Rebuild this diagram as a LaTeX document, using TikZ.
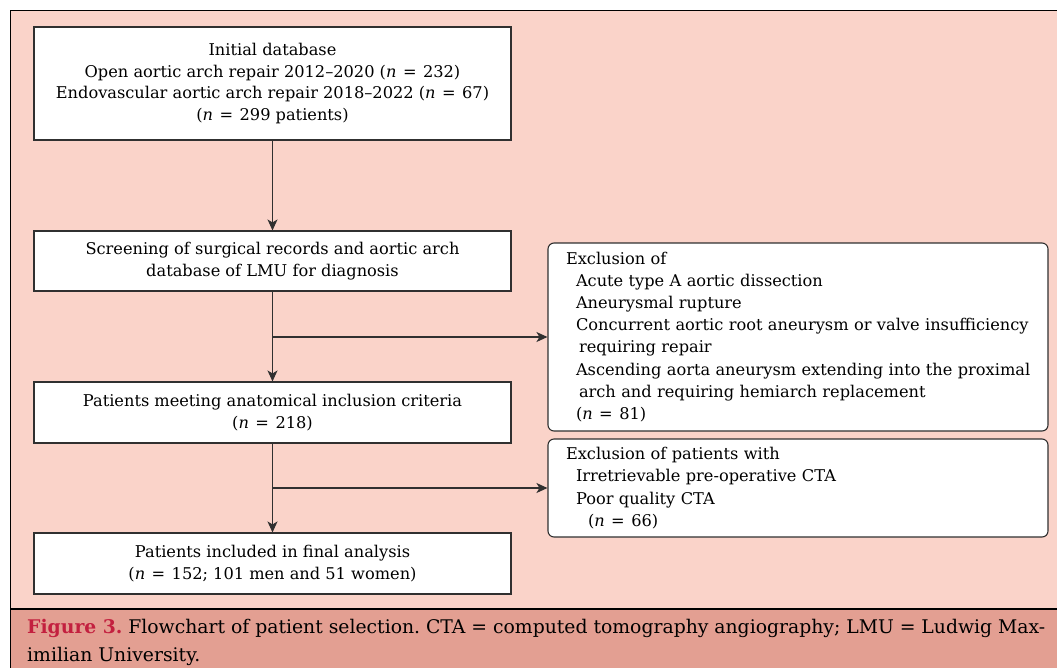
\documentclass[tikz,border=0pt]{standalone}
\usepackage{fontspec}
\setmainfont{DejaVu Serif}
\usetikzlibrary{arrows.meta,calc}
\definecolor{bgpink}{HTML}{FAD3C9}
\definecolor{capband}{HTML}{E39F92}
\definecolor{figred}{HTML}{C3203F}
\definecolor{edgegray}{HTML}{303030}
\newcommand{\eqs}{\hspace{0.4em}=\hspace{0.4em}}
\newcommand{\nn}{\textit{n}}
\frenchspacing
\hyphenpenalty=10000
\hbadness=10000
\hfuzz=20pt
\begin{document}
\begin{tikzpicture}[x=1pt,y=-1pt,
  mainbox/.style={draw=edgegray, line width=1.1pt, fill=white, minimum width=477pt, align=center, font=\fontsize{16.2}{21.5}\selectfont, inner sep=0pt},
  exbox/.style={draw=edgegray, line width=1.1pt, fill=white, rounded corners=6pt, minimum width=500pt, text width=464pt, align=left, inner xsep=18pt, inner ysep=0pt, font=\fontsize{16.2}{22.2}\selectfont},
  conn/.style={draw=edgegray, line width=1.1pt, -{Stealth[length=11pt,width=10pt,inset=3pt]}},
  captext/.style={anchor=base west, inner sep=0pt, font=\fontsize{18.8}{27.6}\selectfont}
]
\useasboundingbox (0,0) rectangle (1057,667);
% background
\fill[bgpink] (10,10) rectangle (1058,609);
\fill[capband] (10,609) rectangle (1058,668);
\draw[black, line width=1.5pt] (1058,10.7) -- (10.7,10.7) -- (10.7,668);
\draw[black, line width=1.1pt] (10,609) -- (1058,609);

% main boxes
\node[mainbox, minimum height=113pt] (b1) at (272.5,83.5) {Initial database\\Open aortic arch repair 2012--2020 (\nn\eqs232)\\Endovascular aortic arch repair 2018--2022 (\nn\eqs67)\\(\nn\eqs299 patients)};
\node[mainbox, minimum height=60pt] (b2) at (272.5,261) {Screening of surgical records and aortic arch\\database of LMU for diagnosis};
\node[mainbox, minimum height=61pt] (b3) at (272.5,412.5) {Patients meeting anatomical inclusion criteria\\(\nn\eqs218)};
\node[mainbox, minimum height=61pt] (b4) at (272.5,563.5) {Patients included in final analysis\\(\nn\eqs152; 101 men and 51 women)};

% exclusion boxes
\node[exbox, minimum height=188pt] (e1) at (798,337) {Exclusion of\\
\hspace*{10pt}Acute type A aortic dissection\\
\hspace*{10pt}Aneurysmal rupture\\
\hspace*{10pt}\mbox{Concurrent aortic root aneurysm or valve insufficiency}\\
\hspace*{13pt}requiring repair\\
\hspace*{10pt}\mbox{Ascending aorta aneurysm extending into the proximal}\\
\hspace*{13pt}arch and requiring hemiarch replacement\\
\hspace*{10pt}(\nn\eqs81)};
\node[exbox, minimum height=98pt] (e2) at (798,488) {Exclusion of patients with\\
\hspace*{10pt}Irretrievable pre-operative CTA\\
\hspace*{10pt}Poor quality CTA\\
\hspace*{22pt}(\nn\eqs66)};

% connectors
\coordinate (j1) at (b2.south |- e1.west);
\coordinate (j2) at (b3.south |- e2.west);
\draw[conn] (b1.south) -- (b2.north);
\draw[conn] (b2.south) -- (b3.north);
\draw[conn] (b3.south) -- (b4.north);
\draw[conn] (j1) -- (e1.west);
\draw[conn] (j2) -- (e2.west);

% caption
\node[captext] (cap1) at (27,633) {\makebox[1018pt][s]{\textcolor{figred}{\textbf{Figure 3.}} Flowchart of patient selection. CTA = computed tomography angiography; LMU = Ludwig Max-}};
\node[captext] (cap2) at (27,661) {imilian University.};
\end{tikzpicture}
\end{document}
